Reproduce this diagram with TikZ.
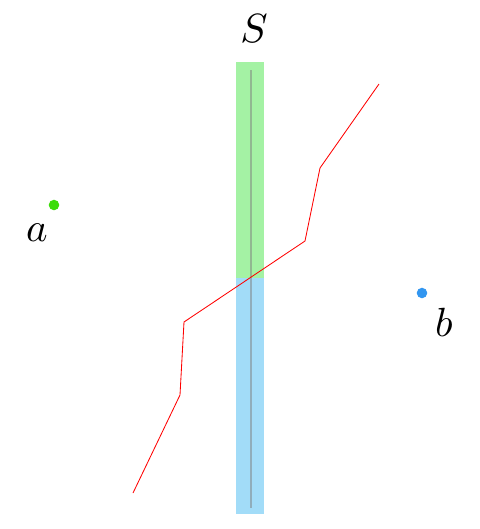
\documentclass[tikz,border=0pt]{standalone}
\usepackage{tikz}
\usetikzlibrary{positioning}
\definecolor{bandgreen}{RGB}{164,242,164}
\definecolor{bandblue}{RGB}{162,220,248}
\definecolor{dotgreen}{RGB}{60,220,10}
\definecolor{dotblue}{RGB}{50,150,240}

\begin{document}
\begin{tikzpicture}[x=0.025cm, y=-0.025cm,
		lbl/.style={scale=2.9, inner sep=0pt},
		pt/.style={circle, inner sep=0pt, minimum size=7.5pt},
		path/.style={red, line width=0.6pt}]
		\useasboundingbox (0,0) rectangle (480,529);
		% Surface S split in two halves
		\fill[bandgreen] (236,62) rectangle (264,278);
		\fill[bandblue] (236,278) rectangle (264,514);
		\draw[gray, opacity=0.5, line width=1.4pt] (251,70) -- (251,508);
		\node[lbl] (S) at (254,29) {$S$};
		% End points a and b
		\node[pt, fill=dotgreen] (a) at (54,205) {};
		\node[lbl] (alab) at (37,233) {$a$};
		\node[pt, fill=dotblue] (b) at (422,293) {};
		\node[lbl] (blab) at (444,322) {$b$};
		% Path crossing S
		\coordinate (p0) at (133,493);
		\coordinate (p1) at (180,395);
		\coordinate (p2) at (184,322);
		\coordinate (p3) at (305,241);
		\coordinate (p4) at (320,168);
		\coordinate (p5) at (379,84);
		\draw[path] (p0) -- (p1) -- (p2) -- (p3) -- (p4) -- (p5);
	\end{tikzpicture}
\end{document}
